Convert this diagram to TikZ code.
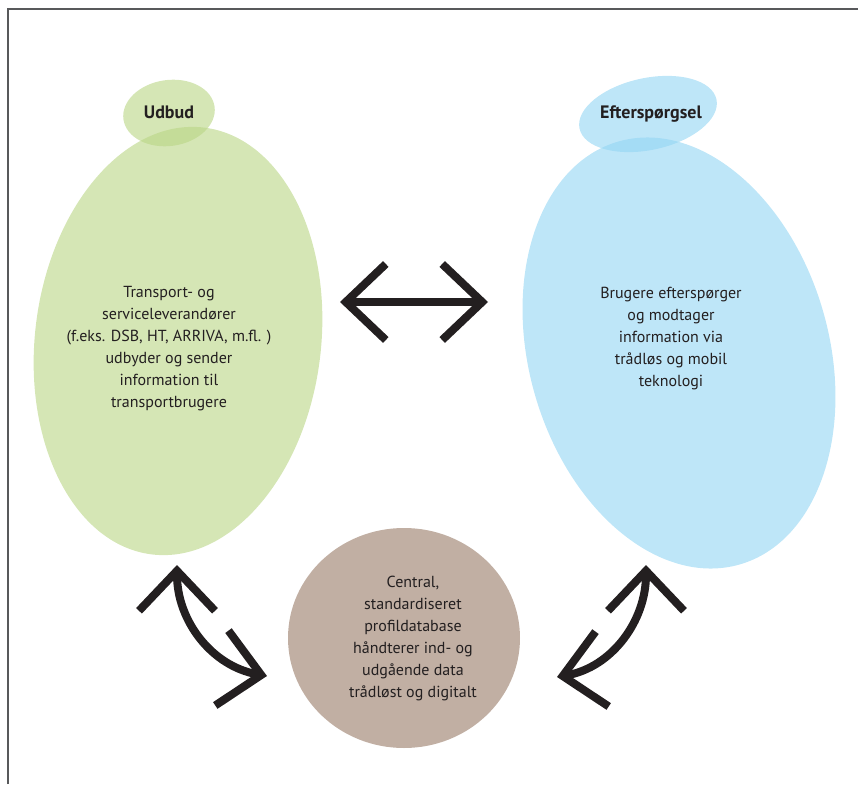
\documentclass[tikz,border=0pt]{standalone}
\usepackage{fontspec}
\setmainfont{PT Sans}
\usepackage{tikz}
\usetikzlibrary{arrows.meta,shapes.geometric}
\definecolor{SGreen}{HTML}{B9D584}
\definecolor{DBlue}{HTML}{93D5F3}
\definecolor{HBrown}{HTML}{C1AFA3}
\definecolor{SInk}{HTML}{231F20}
\definecolor{SFrame}{HTML}{58595B}

\begin{document}
\begin{tikzpicture}[
  x=0.5pt,y=0.5pt,
  every node/.style={font=\fontsize{8}{11}\selectfont,text=SInk},
  blob/.style={ellipse,inner sep=0pt,fill opacity=0.6},
  blurb/.style={align=center},
  head/.style={font=\fontsize{9}{11}\selectfont\bfseries},
  arr/.style={{Straight Barb[length=20pt,width=38pt]}-{Straight Barb[length=20pt,width=38pt]},
    line width=4pt,draw=SInk}
]
  \useasboundingbox (0,0) rectangle (858,784);
  \draw[SFrame,line width=1pt] (8,0) -- (8,775) -- (858,775);

  \node[blob,fill=SGreen,minimum width=143pt,minimum height=215pt,rotate=-7]
    (supply) at (178,443) {};
  \node[blob,fill=SGreen,minimum width=46pt,minimum height=33pt,rotate=8]
    (supplytag) at (169,671) {};
  \node[blob,fill=DBlue,minimum width=150pt,minimum height=220pt,rotate=16]
    (demand) at (679,431) {};
  \node[blob,fill=DBlue,minimum width=70pt,minimum height=36pt,rotate=12]
    (demandtag) at (648,670) {};
  \node[ellipse,inner sep=0pt,fill=HBrown,minimum width=116pt,minimum height=110pt]
    (hub) at (404,146) {};

  \node[head] (udbud) at (169,672) {Udbud};
  \node[head] (eftersp) at (651,670) {Efterspørgsel};
  \node[blurb] (supplytxt) at (169,435)
    {Transport- og\\serviceleverandører\\(f.eks. DSB, HT, ARRIVA, m.fl. )\\
     udbyder og sender\\information til\\transportbrugere};
  \node[blurb] (demandtxt) at (671,445)
    {Brugere efterspørger\\og modtager\\information via\\trådløs og mobil\\teknologi};
  \node[blurb] (hubtxt) at (413,146)
    {Central,\\standardiseret\\profildatabase\\håndterer ind- og\\udgående data\\trådløst og digitalt};

  \coordinate (sd1) at (340,482);
  \coordinate (sd2) at (488,482);
  \coordinate (sh1) at (177,219);
  \coordinate (sh2) at (267,108);
  \coordinate (dh1) at (646,219);
  \coordinate (dh2) at (557,107);

  \draw[arr] (sd1) -- (sd2);
  \draw[arr] (sh1) to[out=-90,in=170] (sh2);
  \draw[arr] (dh1) to[out=-90,in=10] (dh2);
\end{tikzpicture}
\end{document}
